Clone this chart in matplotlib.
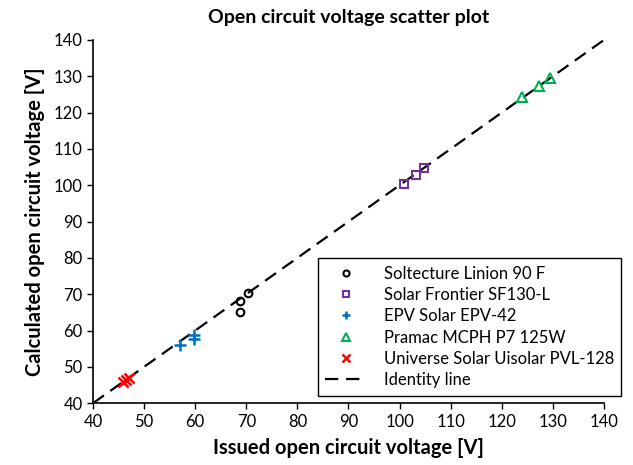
import matplotlib
matplotlib.use("Agg")
import matplotlib.pyplot as plt

plt.rcParams['font.family'] = ['Lato', 'DejaVu Sans']

identity = [40, 140]
solt_x = [68.8, 68.8, 70.4]
solt_y = [68.0, 65.1, 70.3]
sf_x = [100.8, 103.2, 104.8]
sf_y = [100.3, 102.9, 104.7]
epv_x = [57.0, 59.7, 59.7]
epv_y = [56.0, 57.7, 58.7]
pr_x = [124.0, 127.3, 129.4]
pr_y = [124.3, 127.3, 129.6]
uni_x = [45.8, 46.4, 47.0]
uni_y = [45.9, 46.4, 46.9]
xticks = list(range(40, 141, 10))
yticks = list(range(40, 141, 10))

fig = plt.figure(figsize=(6.33, 4.65), dpi=100)
ax = fig.add_axes([0.147, 0.133, 0.807, 0.781])

ax.plot(solt_x, solt_y, 'o', mfc='none', mec='black', mew=1.5, ms=5.5, label='Soltecture Linion 90 F', zorder=3)
ax.plot(sf_x, sf_y, 's', mfc='none', mec='#7030A0', mew=1.5, ms=5.5, label='Solar Frontier SF130-L', zorder=3)
ax.plot(epv_x, epv_y, '+', color='#0070C0', mew=1.8, ms=8, label='EPV Solar EPV-42', zorder=3)
ax.plot(pr_x, pr_y, '^', mfc='none', mec='#00B050', mew=1.5, ms=6.5, label='Pramac MCPH P7 125W', zorder=3)
ax.plot(uni_x, uni_y, 'x', color='#FF0000', mew=1.8, ms=7, label='Universe Solar Uisolar PVL-128', zorder=3)
ax.plot(identity, identity, color='black', lw=1.6, dashes=(6, 3.5), label='Identity line', zorder=2)

ax.set_xlim(40, 140)
ax.set_ylim(40, 140)
ax.set_xticks(xticks)
ax.set_yticks(yticks)
ax.tick_params(direction='out', length=4, width=1, labelsize=12, colors='black')
for s in ['top', 'right']:
    ax.spines[s].set_visible(False)
for s in ['left', 'bottom']:
    ax.spines[s].set_linewidth(1.2)

ax.set_xlabel('Issued open circuit voltage [V]', fontsize=14.5, fontweight='bold', labelpad=6)
ax.set_ylabel('Calculated open circuit voltage [V]', fontsize=14.5, fontweight='bold', labelpad=6)
ax.set_title('Open circuit voltage scatter plot', fontsize=14, fontweight='bold', pad=12)

leg = ax.legend(loc='upper left', bbox_to_anchor=(0.502, 0.445), bbox_transform=fig.transFigure,
                fontsize=12, frameon=True, fancybox=False, framealpha=1, edgecolor='black',
                handlelength=2.5, borderpad=0.45, labelspacing=0.32, borderaxespad=0,
                markerscale=0.8, handletextpad=1.0)
leg.get_frame().set_linewidth(1.0)

fig.savefig('out.png', dpi=100)
